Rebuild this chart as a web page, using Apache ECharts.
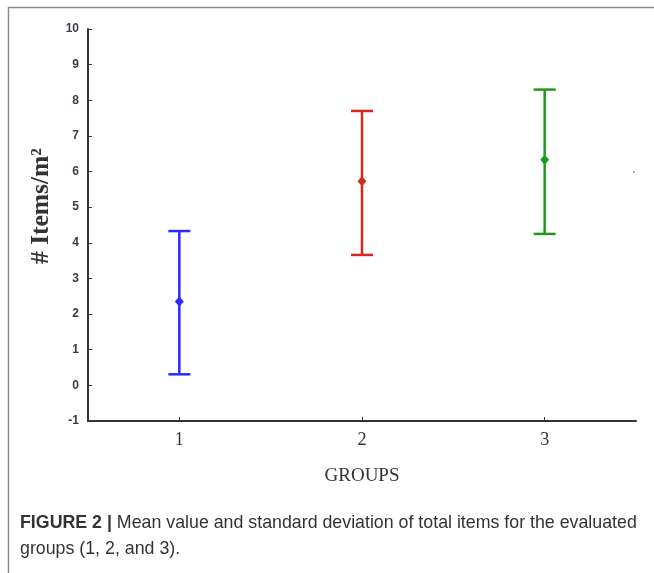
<!DOCTYPE html>
<html>
<head>
<meta charset="utf-8">
<script src="https://cdn.jsdelivr.net/npm/echarts@6/dist/echarts.min.js"></script>
<style>
html,body{margin:0;padding:0;background:#fff;}
#c{width:654px;height:573px;}
</style>
</head>
<body>
<div id="c"></div>
<script>
var groups = ['1', '2', '3'];
var means = [2.35, 5.73, 6.33];
var lows = [0.31, 3.66, 4.25];
var highs = [4.33, 7.70, 8.30];
var colors = ['#2a2aff', '#d42a1e', '#1f9a1f'];
var yTicks = [-1, 0, 1, 2, 3, 4, 5, 6, 7, 8, 9, 10];

var barData = groups.map(function (g, i) { return [i, lows[i], highs[i], means[i]]; });

var chart = echarts.init(document.getElementById('c'), null, {renderer: 'canvas'});
chart.setOption({
  backgroundColor: '#ffffff',
  animation: false,
  grid: {left: 88, right: 18, top: 29, bottom: 152},
  xAxis: {
    type: 'category',
    data: groups,
    boundaryGap: true,
    name: 'GROUPS',
    nameLocation: 'middle',
    nameGap: 46,
    nameTextStyle: {fontFamily: 'Liberation Serif', fontSize: 19, color: '#333'},
    axisLine: {onZero: false, lineStyle: {color: '#333', width: 2}},
    axisTick: {show: true, inside: true, alignWithLabel: true, length: 4, lineStyle: {color: '#333', width: 1}},
    axisLabel: {fontFamily: 'Liberation Serif', fontSize: 18, color: '#333', margin: 10},
    splitLine: {show: false}
  },
  yAxis: {
    type: 'value',
    min: yTicks[0],
    max: yTicks[yTicks.length - 1],
    interval: 1,
    axisLine: {show: true, onZero: false, lineStyle: {color: '#333', width: 2}},
    axisTick: {show: true, inside: true, length: 4, lineStyle: {color: '#333', width: 1}},
    axisLabel: {fontFamily: 'Liberation Sans', fontWeight: 'bold', fontSize: 12, color: '#3a3a4a', margin: 9},
    splitLine: {show: false}
  },
  series: [{
    type: 'custom',
    data: barData,
    renderItem: function (params, api) {
      var i = api.value(0);
      var lo = api.coord([i, api.value(1)]);
      var hi = api.coord([i, api.value(2)]);
      var m = api.coord([i, api.value(3)]);
      var col = colors[params.dataIndex];
      var hw = 11;
      var st = {stroke: col, lineWidth: 2.5, fill: null};
      return {
        type: 'group',
        children: [
          {type: 'line', shape: {x1: hi[0], y1: hi[1], x2: lo[0], y2: lo[1]}, style: st},
          {type: 'line', shape: {x1: hi[0] - hw, y1: hi[1], x2: hi[0] + hw, y2: hi[1]}, style: st},
          {type: 'line', shape: {x1: lo[0] - hw, y1: lo[1], x2: lo[0] + hw, y2: lo[1]}, style: st},
          {type: 'polygon', shape: {points: [[m[0], m[1] - 5], [m[0] + 4.5, m[1]], [m[0], m[1] + 5], [m[0] - 4.5, m[1]]]}, style: {fill: col}}
        ]
      };
    }
  }],
  graphic: [
    {type: 'polyline', silent: true, shape: {points: [[8.5, 573], [8.5, 7.5], [654, 7.5]]}, style: {stroke: '#8a8a8a', lineWidth: 1.5, fill: null}},
    {type: 'circle', silent: true, shape: {cx: 634, cy: 172, r: 0.8}, style: {fill: '#555'}},
    {type: 'text', silent: true, x: 41, y: 206, rotation: Math.PI / 2, style: {
      text: '# Items/m²', fontFamily: 'Liberation Serif', fontWeight: 'bold', fontSize: 25.5, fill: '#333',
      align: 'center', verticalAlign: 'middle'
    }},
    {type: 'text', left: 20, top: 510, silent: true, style: {
      text: '{b|FIGURE 2 |} Mean value and standard deviation of total items for the evaluated\ngroups (1, 2, and 3).',
      fontFamily: 'Liberation Sans', fontSize: 17.8, lineHeight: 26, fill: '#333',
      rich: {b: {fontWeight: 'bold', fontFamily: 'Liberation Sans', fontSize: 17.8, fill: '#333'}}
    }}
  ]
});
</script>
</body>
</html>
